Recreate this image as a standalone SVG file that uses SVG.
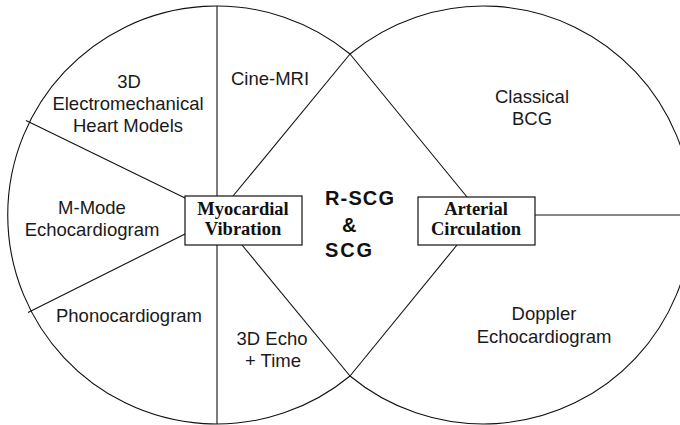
<svg xmlns="http://www.w3.org/2000/svg" width="680" height="425" viewBox="0 0 680 425">
<style>
.ln{fill:none;stroke:#111;stroke-width:1.1}
.bx{fill:#fff;stroke:#111;stroke-width:1.2}
.lb{font-family:"Liberation Sans",Arial,sans-serif;font-size:18.5px;fill:#1a1a1a;text-anchor:middle}
.bt{font-family:"Liberation Serif","Times New Roman",serif;font-size:18.5px;font-weight:bold;fill:#111;text-anchor:middle}
.ct{font-family:"Liberation Sans",Arial,sans-serif;font-size:20px;font-weight:bold;fill:#111}
</style>
<rect width="680" height="425" fill="#fff"/>
<g id="connectors">
<path class="ln" d="M350 54 A209 209 0 1 0 350 376"/>
<path class="ln" d="M350 54 A209 209 0 1 1 350 376"/>
<line class="ln" x1="217" y1="6" x2="217" y2="196"/>
<line class="ln" x1="217" y1="245" x2="217" y2="424"/>
<line class="ln" x1="26" y1="120.5" x2="185" y2="198"/>
<line class="ln" x1="28" y1="312.5" x2="185" y2="234"/>
<line class="ln" x1="233" y1="196" x2="350" y2="54"/>
<line class="ln" x1="350" y1="54" x2="467" y2="197"/>
<line class="ln" x1="242" y1="245" x2="350" y2="376"/>
<line class="ln" x1="457" y1="245" x2="350" y2="376"/>
<line class="ln" x1="535" y1="215" x2="680" y2="215"/>
</g>
<g id="labels">
<text class="lb" x="129" y="88">3D</text>
<text class="lb" x="128" y="110">Electromechanical</text>
<text class="lb" x="128" y="132">Heart Models</text>
<text class="lb" x="270" y="85">Cine-MRI</text>
<text class="lb" x="92" y="214">M-Mode</text>
<text class="lb" x="92" y="236">Echocardiogram</text>
<text class="lb" x="129" y="322">Phonocardiogram</text>
<text class="lb" x="272" y="345">3D Echo</text>
<text class="lb" x="273" y="367">+ Time</text>
<text class="lb" x="532" y="103">Classical</text>
<text class="lb" x="532" y="125">BCG</text>
<text class="lb" x="544" y="320">Doppler</text>
<text class="lb" x="544" y="343">Echocardiogram</text>
</g>
<g id="center">
<text class="ct" x="325" y="205" textLength="69" lengthAdjust="spacing">R-SCG</text>
<text class="ct" x="342" y="232">&amp;</text>
<text class="ct" x="325" y="257" textLength="47" lengthAdjust="spacing">SCG</text>
</g>
<g id="myocardial">
<rect class="bx" x="185" y="196" width="117" height="49"/>
<text class="bt" x="243" y="215">Myocardial</text>
<text class="bt" x="243" y="235">Vibration</text>
</g>
<g id="arterial">
<rect class="bx" x="418" y="197" width="117" height="48"/>
<text class="bt" x="476" y="215">Arterial</text>
<text class="bt" x="476" y="235">Circulation</text>
</g>
</svg>
